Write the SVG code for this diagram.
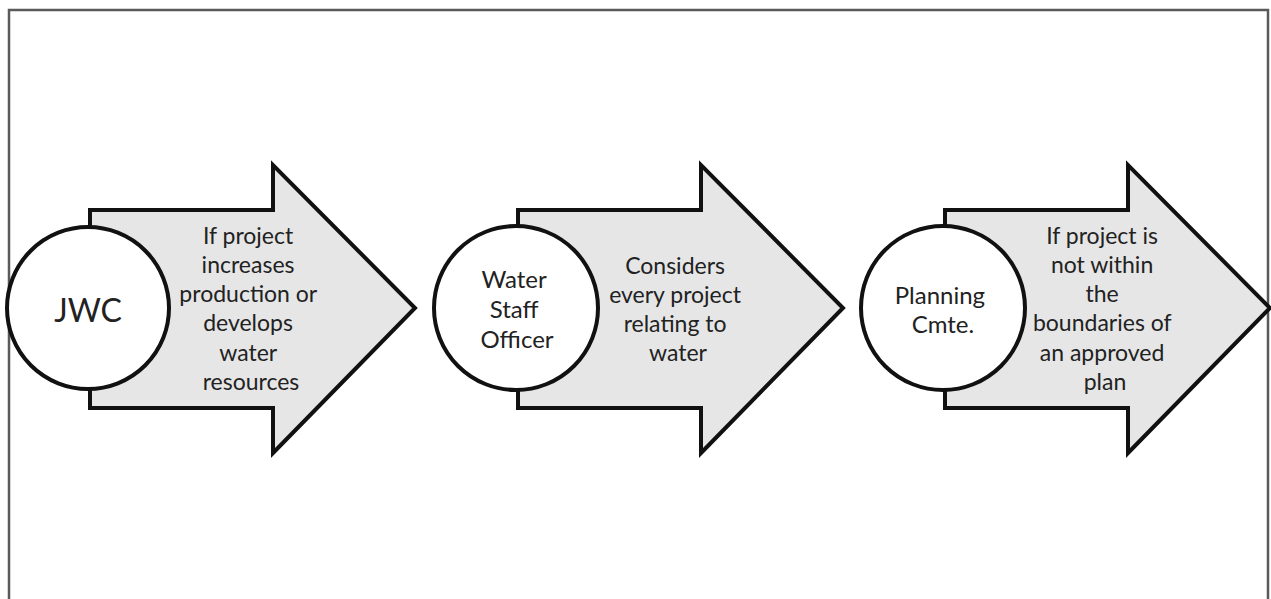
<svg xmlns="http://www.w3.org/2000/svg" width="1271" height="599" viewBox="0 0 1271 599">
  <style>
    .frame { fill: none; stroke: #5a5a5a; stroke-width: 2.5; }
    .arrow { fill: #e6e6e6; stroke: #111; stroke-width: 4; stroke-linejoin: miter; }
    .disc { fill: #ffffff; stroke: #111; stroke-width: 4; }
    .lbl { font-family: Lato, "Open Sans", "Liberation Sans", sans-serif; fill: #222; text-anchor: middle; dominant-baseline: central; }
    .body { font-size: 23px; }
    .name { font-size: 24px; }
    .big { font-size: 32px; }
  </style>
  <defs>
    <!-- block arrow, origin at the centre of its circle -->
    <path id="blockArrow" class="arrow" d="M2,-98 H185 V-143 L327,0 L185,145 V100 H2 Z"/>
  </defs>

  <path class="frame" d="M9,600 V10 H1268 V600"/>

  <g id="connectors"></g>

  <g id="jwc" transform="translate(88,308)">
    <use href="#blockArrow"/>
    <circle class="disc" cx="0" cy="0" r="81"/>
    <text class="lbl big" x="0" y="1">JWC</text>
    <text class="lbl body">
      <tspan x="163" y="-73">If project</tspan>
      <tspan x="163" y="-44">increases</tspan>
      <tspan x="163" y="-15">production or</tspan>
      <tspan x="163" y="14">develops</tspan>
      <tspan x="163" y="44">water</tspan>
      <tspan x="163" y="73">resources</tspan>
    </text>
  </g>

  <g id="water-staff-officer" transform="translate(516,308)">
    <use href="#blockArrow"/>
    <circle class="disc" cx="0" cy="0" r="82"/>
    <text class="lbl name">
      <tspan x="1" y="-30">Water</tspan>
      <tspan x="1" y="0">Staff</tspan>
      <tspan x="1" y="30">Officer</tspan>
    </text>
    <text class="lbl body">
      <tspan x="162" y="-43">Considers</tspan>
      <tspan x="162" y="-14">every project</tspan>
      <tspan x="162" y="15">relating to</tspan>
      <tspan x="162" y="44">water</tspan>
    </text>
  </g>

  <g id="planning-cmte" transform="translate(943,308)">
    <use href="#blockArrow"/>
    <circle class="disc" cx="0" cy="0" r="82"/>
    <text class="lbl name">
      <tspan x="0" y="-14">Planning</tspan>
      <tspan x="0" y="15">Cmte.</tspan>
    </text>
    <text class="lbl body">
      <tspan x="162" y="-73">If project is</tspan>
      <tspan x="162" y="-44">not within</tspan>
      <tspan x="162" y="-15">the</tspan>
      <tspan x="162" y="14">boundaries of</tspan>
      <tspan x="162" y="44">an approved</tspan>
      <tspan x="162" y="73">plan</tspan>
    </text>
  </g>
</svg>
